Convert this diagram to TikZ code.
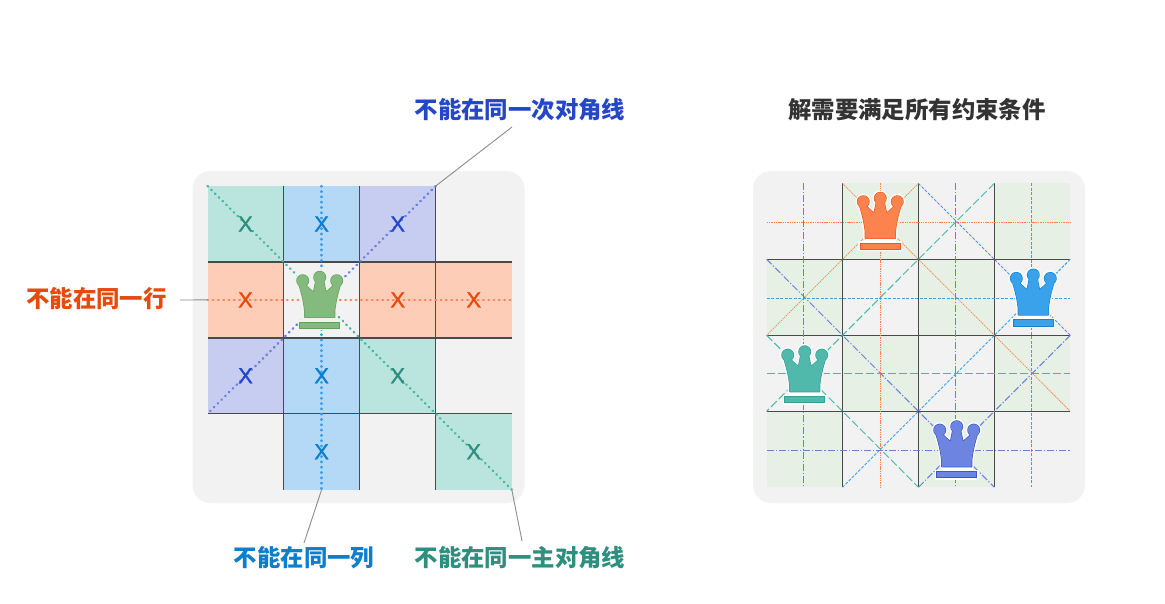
\documentclass[tikz,border=0pt]{standalone}
\usepackage{fontspec}
\newfontfamily\cjk{Noto Sans CJK SC}
\newfontfamily\xfont[FakeBold=1.1]{Liberation Sans}
\definecolor{panel}{HTML}{F2F2F2}
\definecolor{gridc}{HTML}{4A4A4A}
\definecolor{leader}{HTML}{8C8C8C}
\definecolor{cgreen}{HTML}{BAE5DF}
\definecolor{cblue}{HTML}{B3D9F7}
\definecolor{cpurple}{HTML}{C6CDF0}
\definecolor{corange}{HTML}{FDCDB7}
\definecolor{cboard}{HTML}{E6F0E5}
\definecolor{tgreen}{HTML}{2F8F7F}
\definecolor{tblue}{HTML}{0B7FCE}
\definecolor{tpurple}{HTML}{2447C8}
\definecolor{torange}{HTML}{E8490C}
\definecolor{ttitle}{HTML}{333333}
\definecolor{dgreen}{HTML}{45B8A5}
\definecolor{dblue}{HTML}{3AA0EA}
\definecolor{dpurple}{HTML}{6A7FDC}
\definecolor{dorange}{HTML}{FF7F4A}
\definecolor{qgreenF}{HTML}{85BA7F}
\definecolor{qgreenS}{HTML}{5FA35A}
\definecolor{qorangeF}{HTML}{FC824E}
\definecolor{qorangeS}{HTML}{F0591C}
\definecolor{qblueF}{HTML}{3AA2EA}
\definecolor{qblueS}{HTML}{1283D6}
\definecolor{qtealF}{HTML}{50B9AC}
\definecolor{qtealS}{HTML}{36A093}
\definecolor{qpurpleF}{HTML}{6D85E0}
\definecolor{qpurpleS}{HTML}{3A57CC}
\def\crownshape{(-15,40) -- (-15,33) .. controls (-16,24) and (-18,16) .. (-20.5,8)
      -- (-13.5,8.5) -- (-6.2,15) -- (-4,4) -- (4,4) -- (6.2,15) -- (13.5,8.5) -- (20.5,8)
      .. controls (18,16) and (16,24) .. (15,33) -- (15,40) -- cycle
      (-17,3.4) circle (5.8) (0,0) circle (5.8) (17,3.4) circle (5.8)}
\tikzset{
  panelbox/.style={fill=panel,draw=none,rounded corners=18pt},
  cellbox/.style={minimum width=76pt,minimum height=76pt,inner sep=0pt,outer sep=0pt,draw=none},
  gridline/.style={draw=gridc,line width=1.5pt},
  leaderline/.style={draw=leader,line width=0.9pt},
  title/.style={font=\cjk\bfseries\fontsize{23.4}{26}\selectfont,inner sep=0pt},
  xmark/.style={font=\xfont\fontsize{22}{22}\selectfont,inner sep=0pt},
  bigdots/.style={line width=2.4pt,line cap=round,dash pattern=on 0.6pt off 4.7pt},
  lorange/.style={draw=dorange,line width=0.75pt,dash pattern=on 1.4pt off 0.9pt},
  lblue/.style={draw=dblue,line width=0.9pt,dash pattern=on 3pt off 1.5pt},
  lteal/.style={draw=dgreen,line width=1pt,dash pattern=on 8pt off 3pt},
  lpurple/.style={draw=dpurple,line width=1pt,dash pattern=on 7pt off 2pt on 1.2pt off 2pt},
  pics/queen/.style n args={3}{code={
    \fill[#3] (-22,43) rectangle (22,53);
    \fill[#3] (-16,38) rectangle (16,46);
    \draw[#3,line width=4pt,line join=round] \crownshape;
    \draw[#2,line width=1.3pt,line join=round] \crownshape;
    \fill[#1] \crownshape;
    \path[draw=#2,line width=1pt,fill=#1] (-20,44.9) rectangle (20,51.2);
  }}
}
\begin{document}
\begin{tikzpicture}[x=1pt,y=-1pt]
\useasboundingbox (0,0) rectangle (1165,604);
\fill[white] (0,0) rectangle (1165,604);

% ---------- left board
\node[panelbox,minimum width=332pt,minimum height=332pt,inner sep=0pt] (lpanel) at (358.5,337) {};
\foreach \r/\c/\k in {0/0/cgreen,0/1/cblue,0/2/cpurple,0/3/panel,
                      1/0/corange,1/1/panel,1/2/corange,1/3/corange,
                      2/0/cpurple,2/1/cblue,2/2/cgreen,2/3/panel,
                      3/0/panel,3/1/cblue,3/2/panel,3/3/cgreen}{
  \node[cellbox,fill=\k] (l\r\c) at ({245.5+76.1*\c},{224+75.9*\r}) {};
}
% grid
\draw[gridline] (l01.north east) -- (l31.south east);
\draw[gridline] (l00.north east) -- (l30.south east);
\draw[gridline] (l02.north east) -- (l32.south east);
\draw[gridline] (l10.north west) -- (l13.north east);
\draw[gridline] (l20.north west) -- (l23.north east);
\draw[gridline] (l30.north west) -- (l33.north east);
% dotted guides
\draw[bigdots,draw=dgreen] (l00.north west) -- (l33.south east);
\draw[bigdots,draw=dpurple] (l02.north east) -- (l20.south west);
\draw[bigdots,draw=dorange] (l10.west) -- (l13.east);
\draw[bigdots,draw=dblue] (l01.north) -- (l31.south);
% X marks
\foreach \n/\k in {00/tgreen,01/tblue,02/tpurple,10/torange,12/torange,13/torange,
                   20/tpurple,21/tblue,22/tgreen,31/tblue,33/tgreen}{
  \node[xmark,text=\k] (x\n) at (l\n) {X};
}
\pic at (319.7,277.3) {queen={qgreenF}{qgreenS}{panel}};

% labels and leaders
\node[title,text=tpurple] (tdiag) at (520,110) {不能在同一次对角线};
\node[title,text=torange] (trow) at (96.5,299) {不能在同一行};
\node[title,text=tblue] (tcol) at (304,558) {不能在同一列};
\node[title,text=tgreen] (tmain) at (520,558) {不能在同一主对角线};
\node[title,text=ttitle] (tsol) at (917,110) {解需要满足所有约束条件};
\coordinate (ld) at (512,127);
\coordinate (lr) at (180,300);
\coordinate (lc) at (304,543);
\coordinate (lm) at (522,541);
\draw[leaderline] (l02.north east) -- (ld);
\draw[leaderline] (lr) -- (l10.west);
\draw[leaderline] (l31.south) -- (lc);
\draw[leaderline] (l33.south east) -- (lm);

% ---------- right board
\node[panelbox,minimum width=332pt,minimum height=332pt,inner sep=0pt] (rpanel) at (919,337) {};
\foreach \r/\c/\k in {0/0/panel,0/1/cboard,0/2/panel,0/3/cboard,
                      1/0/cboard,1/1/panel,1/2/cboard,1/3/panel,
                      2/0/panel,2/1/cboard,2/2/panel,2/3/cboard,
                      3/0/cboard,3/1/panel,3/2/cboard,3/3/panel}{
  \node[cellbox,fill=\k] (r\r\c) at ({804.6+75.9*\c},{221.3+76*\r}) {};
}
\draw[gridline] (r01.north west) -- (r31.south west);
\draw[gridline] (r02.north west) -- (r32.south west);
\draw[gridline] (r03.north west) -- (r33.south west);
\draw[gridline] (r10.north west) -- (r13.north east);
\draw[gridline] (r20.north west) -- (r23.north east);
\draw[gridline] (r30.north west) -- (r33.north east);
% orange queen lines
\draw[lorange] ([yshift=-1pt]r00.west) -- ([yshift=-1pt]r03.east);
\draw[lorange] (r01.north) -- (r31.south);
\draw[lorange] (r01.north east) -- (r20.north west);
\draw[lorange] (r01.north west) -- (r23.south east);
% blue queen lines
\draw[lblue] ([yshift=-1pt]r10.west) -- ([yshift=-1pt]r13.east);
\draw[lblue] ([xshift=-1pt]r03.north) -- ([xshift=-1pt]r33.south);
\draw[lblue] (r02.north west) -- (r13.south east);
\draw[lblue] (r13.north east) -- (r31.south west);
% teal queen lines
\draw[lteal] (r20.west) -- (r23.east);
\draw[lteal] (r02.north east) -- (r30.north west);
\draw[lteal] (r20.north west) -- (r31.south east);
% purple queen lines
\draw[lpurple] ([yshift=-1pt]r30.west) -- ([yshift=-1pt]r33.east);
\draw[lpurple] ([xshift=-1.3pt]r00.north) -- ([xshift=-1.3pt]r30.south);
\draw[lpurple] ([xshift=-1.3pt]r02.north) -- ([xshift=-1.3pt]r32.south);
\draw[lpurple] (r10.north west) -- (r32.south east);
\draw[lpurple] (r23.north east) -- (r32.south west);
% queens
\pic at (880.3,198.3) {queen={qorangeF}{qorangeS}{white}};
\pic at (1033.3,275) {queen={qblueF}{qblueS}{white}};
\pic at (804.7,351.7) {queen={qtealF}{qtealS}{white}};
\pic at (956.7,426.7) {queen={qpurpleF}{qpurpleS}{white}};
\end{tikzpicture}
\end{document}
